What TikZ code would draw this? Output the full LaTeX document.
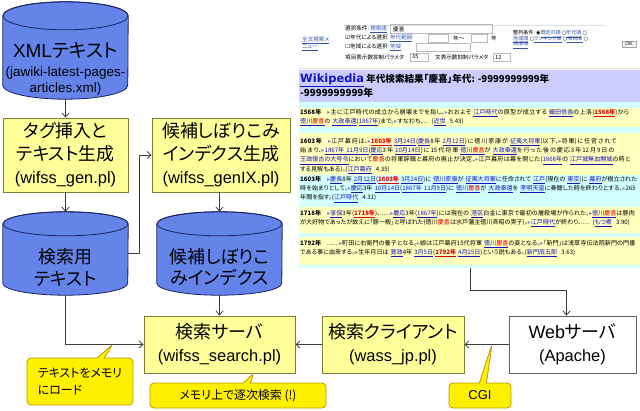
\documentclass[tikz,border=0pt]{standalone}
\usepackage{fontspec}
\setmainfont{Noto Sans CJK JP}[RawFeature=+palt]
\newfontfamily\arl{Liberation Sans}
\newfontfamily\djv{DejaVu Sans}
\usetikzlibrary{shapes.geometric,shapes.callouts,arrows.meta}
\XeTeXlinebreaklocale "ja"
\XeTeXlinebreakskip=0pt plus 0.5pt
\definecolor{cylf}{RGB}{100,132,234}
\definecolor{cyld}{RGB}{25,35,95}
\definecolor{boxf}{RGB}{255,255,153}
\definecolor{boxd}{RGB}{125,125,55}
\definecolor{callf}{RGB}{255,240,0}
\definecolor{calld}{RGB}{190,150,0}
\definecolor{linec}{RGB}{60,60,60}
\definecolor{webd}{RGB}{95,95,95}
\definecolor{lavc}{RGB}{204,204,255}
\definecolor{cyanc}{RGB}{210,255,255}
\definecolor{yelc}{RGB}{255,255,190}
\definecolor{linkc}{RGB}{20,20,190}
\definecolor{formc}{RGB}{51,85,170}
\definecolor{redc}{RGB}{220,0,0}
\newcommand\lk[1]{\textcolor{linkc}{\underline{#1}}}
\newcommand\fl[1]{\textcolor{formc}{\underline{#1}}}
\newcommand\yr[1]{\textcolor{redc}{\underline{\textbf{#1}}}}
\newcommand\mk{{\djv\color{linkc!55}▸}}
\newcommand\kk{\textcolor{redc}{慶喜}}
\newcommand\mycyl[3]{%
  \path[fill=cylf,draw=cyld,line width=0.8bp]
    ([yshift=-#3bp]#1.north west) -- ([yshift=#3bp]#1.south west)
    arc[start angle=180,end angle=360,x radius=#2,y radius=#3]
    -- ([yshift=-#3bp]#1.north east)
    arc[start angle=0,end angle=180,x radius=#2,y radius=#3] -- cycle;
  \draw[draw=cyld,line width=0.8bp] ([yshift=-#3bp]#1.north) ellipse[x radius=#2,y radius=#3];}
\tikzset{
  arr/.style={draw=linec,line width=0.8bp,-{Straight Barb[length=4bp,width=7bp]}},
  cylnode/.style={rectangle,inner sep=0,draw=none},
  cyltext/.style={inner sep=0,align=center,font=\fontsize{18}{22}\selectfont},
  ybox/.style={rectangle,draw=boxd,fill=boxf,line width=0.8bp,inner sep=0,align=center,font=\fontsize{18}{23}\selectfont},
  wbox/.style={rectangle,draw=webd,fill=white,line width=0.8bp,inner sep=0,align=center,font=\fontsize{18}{23}\selectfont},
  callbox/.style={rectangle callout,draw=calld,fill=callf,line width=0.8bp,rounded corners=4bp,inner sep=0},
  fm/.style={anchor=west,inner sep=0,font=\fontsize{5.6}{6}\selectfont},
  fm5/.style={anchor=west,inner sep=0,font=\fontsize{5.1}{6}\selectfont},
  fbox/.style={draw=gray!55,line width=0.4bp},
  res/.style={anchor=north west,inner sep=0,text width=337bp,align=left,font=\fontsize{6.1}{9.3}\selectfont},
}
\begin{document}
\begin{tikzpicture}[x=1bp,y=1bp]
\useasboundingbox (0,0) rectangle (640,410);

% ---------- screenshot ----------
\node[inner sep=0,minimum width=341bp,minimum height=268bp,anchor=north west] (shot) at (299,410) {};
\draw[gray!25,line width=0.5bp] (343,385) -- (605,385);
\draw[gray!25,line width=0.5bp] (299,342) -- (640,342);
\node[fm] (f1) at (302,370) {\fl{全文検索メ}};
\node[fm] (f2) at (302,362) {\fl{ニュー}};
\node[fm] (f3) at (345,381) {選択条件:\ \fl{検索語}};
\draw[fbox] (390,377) rectangle (492,386);
\node[fm] (f3b) at (393,381) {慶喜};
\node[fm] (f4) at (345,372) {{\djv ☑}年代による選択\ \ \fl{年代範囲}};
\draw[fbox] (428,368) rectangle (448,376);
\node[fm] (f4b) at (453,372) {年〜};
\draw[fbox] (471,368) rectangle (487,376);
\node[fm] (f4c) at (491,372) {年};
\node[fm] (f5) at (345,363) {{\djv ☐}地域による選択\ \ \fl{地域}};
\draw[fbox] (416,359) rectangle (470,367);
\node[fm] (f6) at (345,353) {項目表示数抑制パラメタ};
\draw[fbox] (410,349) rectangle (428,357);
\node[fm] (f6b) at (412,353) {35};
\node[fm] (f7) at (435,353) {文表示数抑制パラメタ};
\draw[fbox] (493,349) rectangle (510,357);
\node[fm] (f7b) at (495,353) {12};
\node[fm5] (g1) at (513,376) {整列条件:\ {\djv ◉}\fl{既定の順}\ {\djv ○}\fl{年代順}\ {\djv ○}};
\node[fm5] (g2) at (513,370.5) {\fl{地域順}\ {\djv ○}\fl{ランキング順}\ {\djv ○}\fl{項目順}\ {\djv ○}};
\node[fm5] (g3) at (513,365) {\fl{頻度順}};
\node[draw=gray!70,fill=gray!8,font=\arl\fontsize{5}{6}\selectfont,inner sep=1.5bp,minimum width=14bp] (okb) at (629,366) {OK};

\fill[lavc] (299,308) rectangle (640,340);
\fill[cyanc] (299,142) rectangle (640,308);
\fill[yelc] (299,283) rectangle (640,302);
\fill[yelc] (299,235) rectangle (640,277);
\fill[yelc] (299,177) rectangle (640,203);
\fill[yelc] (299,145) rectangle (640,173);
\node[anchor=west,inner sep=0,font=\bfseries\fontsize{9.6}{13}\selectfont] (h1) at (300,330)
  {{\djv\fontsize{11.5}{13}\selectfont\color{linkc}\underline{Wikipedia}}\ 年代検索結果「慶喜」年代: -9999999999年};
\node[anchor=west,inner sep=0,font=\bfseries\fontsize{9.8}{13}\selectfont] (h2) at (300,317) {-9999999999年};

\node[res] (r1) at (300,301) {\textbf{1568年}\quad\mk 主に江戸時代の成立から崩壊までを指し、\mk おおよそ \lk{江戸時代}の原型が成立する \lk{織田信長}の上洛(\yr{1568年})から \lk{徳川\kk}の \lk{大政奉還}(\lk{1867年})まで。\mk すなわち、... (\lk{近世}\ \ 5.43)};
\node[res] (r2) at (300,272) {\textbf{1603年}\quad\mk 江戸幕府は、\mk\yr{1603年} \lk{3月24日}(\lk{慶長}8年 \lk{2月12日})に徳川家康が \lk{征夷大将軍}(以下、\mk 将軍)に任官されて始まり、\mk\lk{1867年 11月9日}(\lk{慶応}3年 \lk{10月14日})に15代将軍 \lk{徳川\kk}が \lk{大政奉還}を行った後の慶応3年12月9日の \lk{王政復古}\lk{の大号令}において\kk の将軍辞職と幕府の廃止が決定、\mk 江戸幕府は幕を閉じた(\lk{1868年}の \lk{江戸城無血開城}の時とする見解もある)。(\lk{江戸幕府}\ \ 4.35)};
\node[res] (r3) at (300,234) {\textbf{1603年}\quad\mk\lk{慶長}8年 \lk{2月12日}(\yr{1603年} \lk{3月24日})に \lk{徳川家康}が \lk{征夷大将軍}に任命されて \lk{江戸}(現在の \lk{東京})に \lk{幕府}が樹立された時を始まりとして、\mk\lk{慶応}3年 \lk{10月14日}(\lk{1867年 11月9日})に \lk{徳川\kk}が \lk{大政奉還}を \lk{孝明天皇}に奏聞した時を終わりとする、\mk 265年間を指す。(\lk{江戸時代}\ \ 4.31)};
\node[res] (r4) at (300,200) {\textbf{1718年}\quad\mk\lk{享保}3年(\yr{1718年})、......\mk\lk{慶応}3年(\lk{1867年})には現在の \lk{港区}白金に東京で最初の屠殺場が作られた。\mk\lk{徳川\kk}は豚肉が大好物であったが故えに「豚一殿」と呼ばれた(徳川\kk は水戸藩主徳川斉昭の実子)。\mk\lk{江戸時代}が終わり、..... (\lk{もつ煮}\ \ 3.90)};
\node[res] (r5) at (300,170) {\textbf{1792年}\quad .......\mk 町田に右衛門の養子となる。\mk 娘は江戸幕府15代将軍 \lk{徳川\kk}の妾となる。\mk「新門」は浅草寺伝法院新門の門番である事に由来する。\mk 生年月日は \lk{寛政}4年 \lk{3月5日}(\yr{1792年} \lk{4月25日})という説もある。(\lk{新門辰五郎}\ \ 3.63)};
\coordinate (shotout) at (470,142);

% ---------- diagram ----------
\node[cylnode,minimum width=125bp,minimum height=97bp] (xml) at (65.5,359.5) {};
\mycyl{xml}{62.5}{14}
\node[inner sep=0,align=center,font=\arl\fontsize{13.5}{16}\selectfont] (xmlt) at (65.5,341) {{\fontsize{19}{20}\selectfont XML\normalfont\fontsize{19}{20}\selectfont テキスト}\\[3bp](jawiki-latest-pages-\\articles.xml)};

\node[ybox,minimum width=125bp,minimum height=74bp] (tag) at (65.5,255) {タグ挿入と\\テキスト生成\\{\arl\fontsize{16.5}{23}\selectfont (wifss\_gen.pl)}};
\node[ybox,minimum width=138bp,minimum height=74bp] (cand) at (221,255) {候補しぼりこみ\\インデクス生成\\{\arl\fontsize{16.5}{23}\selectfont (wifss\_genIX.pl)}};

\node[cylnode,minimum width=125bp,minimum height=83bp] (cyl1) at (65.5,156.5) {};
\mycyl{cyl1}{62.5}{12}
\node[cyltext] (cyl1t) at (65.5,143) {検索用\\テキスト};
\node[cylnode,minimum width=125bp,minimum height=83bp] (cyl2) at (219.5,156.5) {};
\mycyl{cyl2}{62.5}{12}
\node[cyltext] (cyl2t) at (219.5,143) {候補しぼりこ\\みインデクス};

\node[ybox,minimum width=151bp,minimum height=57bp] (server) at (219.5,65.5) {検索サーバ\\{\arl\fontsize{16.5}{21}\selectfont (wifss\_search.pl)}};
\node[ybox,minimum width=142bp,minimum height=57bp] (client) at (393,65.5) {検索クライアント\\{\arl\fontsize{16.5}{21}\selectfont (wass\_jp.pl)}};
\node[wbox,minimum width=127bp,minimum height=57bp] (web) at (572.5,65.5) {{\arl Web}サーバ\\{\arl\fontsize{16.5}{21}\selectfont (Apache)}};

\draw[arr] (xml.south) -- (tag.north);
\draw[arr] (tag.south) -- (cyl1.north);
\draw[arr] (cyl1.east) -- ++(11,0) |- (cand.west);
\draw[arr] (cyl2.north |- cand.south) -- (cyl2.north);
\draw[arr] (cyl1.south) |- (server.west);
\draw[arr] (cyl2.south) -- (server.north);
\draw[arr] (client.west) -- (server.east);
\draw[arr] (web.west) -- (client.east);
\draw[arr] (shotout) -- ++(0,-22) -| ([xshift=-6bp]web.north);

\node[callbox,minimum width=106bp,minimum height=47bp,callout absolute pointer={(113,66)},align=left,font=\fontsize{12}{17}\selectfont] (c1) at (80,28.5) {テキストをメモリ\\にロード};
\node[callbox,minimum width=176bp,minimum height=25bp,callout absolute pointer={(254,37)},font=\fontsize{12}{14}\selectfont] (c2) at (238,14.5) {メモリ上で逐次検索 (!)};
\node[callbox,minimum width=62bp,minimum height=25bp,callout absolute pointer={(492,66)},font=\arl\fontsize{13}{15}\selectfont] (c3) at (480,14.5) {CGI};
\end{tikzpicture}
\end{document}
